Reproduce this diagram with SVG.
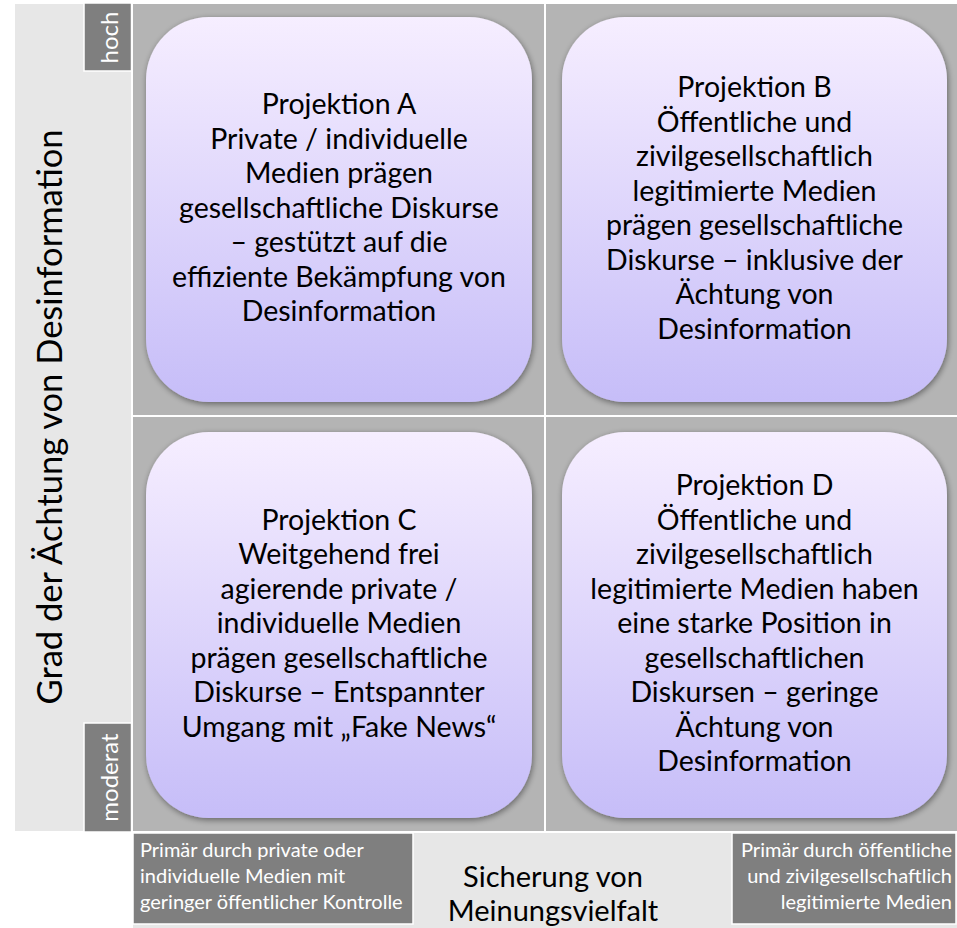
<svg xmlns="http://www.w3.org/2000/svg" width="957" height="928" viewBox="0 0 957 928">
<style>
.box{fill:url(#g);filter:url(#sh);}
.t{font-family:Lato,"Open Sans","Liberation Sans",sans-serif;font-size:28.5px;fill:#000;text-anchor:middle;}
.lab{fill:#7f7f7f;stroke:#fff;stroke-width:1.5;}
.lt{font-family:Lato,"Open Sans","Liberation Sans",sans-serif;fill:#fff;}
.ax{font-family:Lato,"Open Sans","Liberation Sans",sans-serif;fill:#000;}
</style>
<defs>
<linearGradient id="g" x1="0" y1="0" x2="0" y2="1">
<stop offset="0" stop-color="#f6eeff"/>
<stop offset="1" stop-color="#c6bdf8"/>
</linearGradient>
<filter id="sh" x="-10%" y="-10%" width="120%" height="120%">
<feGaussianBlur in="SourceAlpha" stdDeviation="3"/>
<feOffset dx="1" dy="2" result="b"/>
<feComponentTransfer><feFuncA type="linear" slope="0.45"/></feComponentTransfer>
<feMerge><feMergeNode/><feMergeNode in="SourceGraphic"/></feMerge>
</filter>
</defs>
<rect x="0" y="0" width="957" height="928" fill="#fff"/>
<g id="background">
<rect x="15" y="4" width="116" height="827" fill="#e7e7e7"/>
<rect x="133" y="4" width="824" height="827" fill="#b4b4b4"/>
<rect x="133" y="833" width="824" height="95" fill="#e7e7e7"/>
</g>
<g id="connectors">
<line x1="545" y1="4" x2="545" y2="831" stroke="#fff" stroke-width="2"/>
<line x1="133" y1="416" x2="957" y2="416" stroke="#fff" stroke-width="2"/>
</g>
<g id="y-axis">
<text class="ax" font-size="34.5" text-anchor="middle" transform="translate(62,417) rotate(-90)">Grad der Ächtung von Desinformation</text>
</g>
<g id="hoch">
<rect class="lab" x="84" y="3" width="47.5" height="68"/>
<text class="lt" font-size="24" text-anchor="middle" transform="translate(118,37.5) rotate(-90)">hoch</text>
</g>
<g id="moderat">
<rect class="lab" x="84" y="723" width="47.5" height="109"/>
<text class="lt" font-size="24" text-anchor="middle" transform="translate(118,777.5) rotate(-90)">moderat</text>
</g>
<g id="projektion-a">
<rect class="box" x="146" y="17" width="386" height="385" rx="63" ry="63"/>
<text class="t" x="339" y="114">Projektion A</text>
<text class="t" x="339" y="148.5">Private / individuelle</text>
<text class="t" x="339" y="183">Medien prägen</text>
<text class="t" x="339" y="217.5">gesellschaftliche Diskurse</text>
<text class="t" x="339" y="252">– gestützt auf die</text>
<text class="t" x="339" y="286.5">effiziente Bekämpfung von</text>
<text class="t" x="339" y="321">Desinformation</text>
</g>
<g id="projektion-b">
<rect class="box" x="562" y="17" width="385" height="385" rx="63" ry="63"/>
<text class="t" x="754.5" y="97">Projektion B</text>
<text class="t" x="754.5" y="131.5">Öffentliche und</text>
<text class="t" x="754.5" y="166">zivilgesellschaftlich</text>
<text class="t" x="754.5" y="200.5">legitimierte Medien</text>
<text class="t" x="754.5" y="235">prägen gesellschaftliche</text>
<text class="t" x="754.5" y="269.5">Diskurse – inklusive der</text>
<text class="t" x="754.5" y="304">Ächtung von</text>
<text class="t" x="754.5" y="338.5">Desinformation</text>
</g>
<g id="projektion-c">
<rect class="box" x="146" y="432" width="386" height="386" rx="63" ry="63"/>
<text class="t" x="339" y="529.5">Projektion C</text>
<text class="t" x="339" y="564">Weitgehend frei</text>
<text class="t" x="339" y="598.5">agierende private /</text>
<text class="t" x="339" y="633">individuelle Medien</text>
<text class="t" x="339" y="667.5">prägen gesellschaftliche</text>
<text class="t" x="339" y="702">Diskurse – Entspannter</text>
<text class="t" x="339" y="736.5">Umgang mit „Fake News“</text>
</g>
<g id="projektion-d">
<rect class="box" x="562" y="432" width="385" height="386" rx="63" ry="63"/>
<text class="t" x="754.5" y="495">Projektion D</text>
<text class="t" x="754.5" y="529.5">Öffentliche und</text>
<text class="t" x="754.5" y="564">zivilgesellschaftlich</text>
<text class="t" x="754.5" y="598.5">legitimierte Medien haben</text>
<text class="t" x="754.5" y="633">eine starke Position in</text>
<text class="t" x="754.5" y="667.5">gesellschaftlichen</text>
<text class="t" x="754.5" y="702">Diskursen – geringe</text>
<text class="t" x="754.5" y="736.5">Ächtung von</text>
<text class="t" x="754.5" y="771">Desinformation</text>
</g>
<g id="x-left">
<rect class="lab" x="133" y="833" width="280" height="91"/>
<text class="lt" font-size="20" x="140" y="857">Primär durch private oder</text>
<text class="lt" font-size="20" x="140" y="883">individuelle Medien mit</text>
<text class="lt" font-size="20" x="140" y="909">geringer öffentlicher Kontrolle</text>
</g>
<g id="x-axis">
<text class="ax" font-size="29" text-anchor="middle" x="553" y="887">Sicherung von</text>
<text class="ax" font-size="29" text-anchor="middle" x="553" y="921">Meinungsvielfalt</text>
</g>
<g id="x-right">
<rect class="lab" x="732" y="833" width="224" height="91"/>
<text class="lt" font-size="20" text-anchor="end" x="952" y="857">Primär durch öffentliche</text>
<text class="lt" font-size="20" text-anchor="end" x="952" y="883">und zivilgesellschaftlich</text>
<text class="lt" font-size="20" text-anchor="end" x="952" y="909">legitimierte Medien</text>
</g>
</svg>
